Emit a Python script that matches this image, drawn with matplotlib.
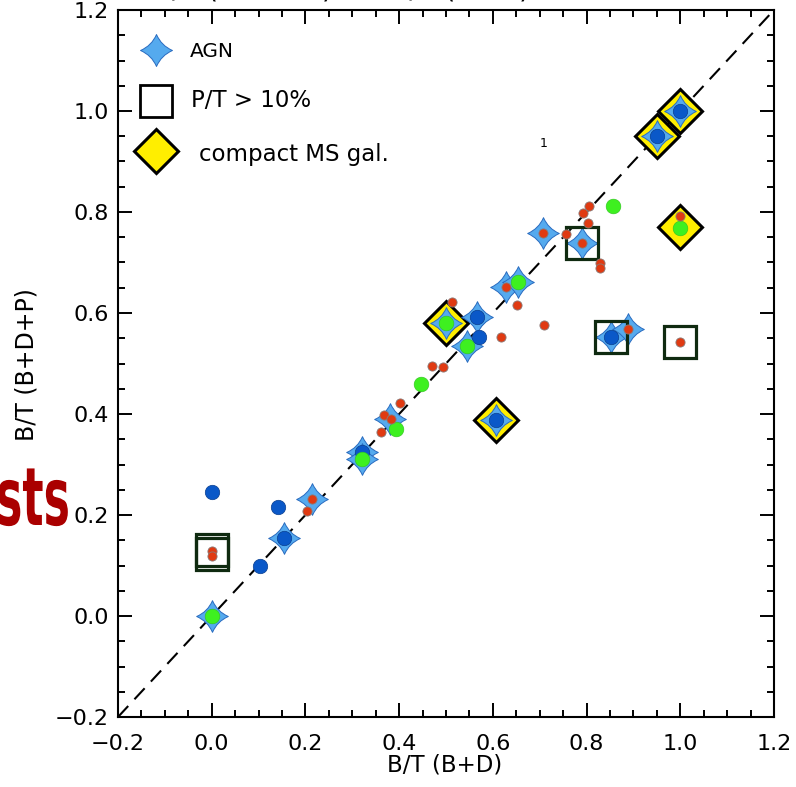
import matplotlib
matplotlib.use("Agg")
import matplotlib.pyplot as plt
from matplotlib.path import Path
from matplotlib.transforms import Affine2D
from matplotlib.ticker import MultipleLocator
from matplotlib import patheffects

# ---- data: B/T from bulge+disc fits (x) versus bulge+disc+point-source fits (y)
agn_x = [0.000, 0.154, 0.215, 0.320, 0.320, 0.380, 0.501, 0.544, 0.567,
         0.629, 0.654, 0.706, 0.790, 0.852, 0.888, 0.607, 0.951, 1.000]
agn_y = [0.000, 0.154, 0.232, 0.325, 0.310, 0.391, 0.581, 0.535, 0.593,
         0.652, 0.661, 0.759, 0.738, 0.553, 0.568, 0.388, 0.951, 1.000]

compact_x = [0.501, 0.607, 0.951, 1.000, 1.000]
compact_y = [0.581, 0.388, 0.951, 1.000, 0.770]

pt_x = [0.000, 0.000, 0.790, 0.852, 1.000]
pt_y = [0.131, 0.122, 0.738, 0.553, 0.543]

blue_x = [0.000, 0.103, 0.141, 0.154, 0.320, 0.567, 0.571, 0.607, 0.852, 0.951, 1.000]
blue_y = [0.245, 0.099, 0.216, 0.154, 0.325, 0.593, 0.553, 0.388, 0.553, 0.951, 1.000]

green_x = [0.000, 0.320, 0.394, 0.447, 0.501, 0.544, 0.654, 0.857, 1.000]
green_y = [0.000, 0.310, 0.370, 0.459, 0.581, 0.535, 0.661, 0.8125, 0.769]

red_x = [0.000, 0.000, 0.203, 0.215, 0.361, 0.368, 0.383, 0.402, 0.471, 0.494,
         0.512, 0.618, 0.629, 0.652, 0.706, 0.709, 0.756, 0.790, 0.792, 0.802,
         0.805, 0.829, 0.829, 0.888, 1.000, 1.000]
red_y = [0.129, 0.119, 0.207, 0.232, 0.364, 0.399, 0.390, 0.421, 0.496, 0.493,
         0.621, 0.552, 0.652, 0.616, 0.759, 0.577, 0.756, 0.738, 0.799, 0.778,
         0.8125, 0.700, 0.689, 0.568, 0.543, 0.793]

one_to_one = [-0.2, 1.2]
axis_range = [-0.2, 1.2]

# ---- four-pointed star marker with concave sides
c = 0.30
star_verts = [(0, 1), (c, c), (1, 0), (c, -c), (0, -1), (-c, -c), (-1, 0),
              (-c, c), (0, 1), (0, 1)]
star_codes = [Path.MOVETO] + [Path.CURVE3] * 8 + [Path.CLOSEPOLY]
STAR = Path(star_verts, star_codes)

STAR_FACE = "#55aaee"
STAR_EDGE = "#2a6cc0"
YELLOW = "#ffee00"
SQ_EDGE = "#0f2a10"
BLUE = "#0a58c8"
GREEN = "#3ef020"
RED = "#e03a12"

fig = plt.figure(figsize=(7.96, 7.87), dpi=100)
ax = fig.add_axes([118 / 796, 70 / 787, 656 / 796, 707 / 787])

ax.plot(one_to_one, one_to_one, color="black", lw=1.5, dashes=(7.2, 4.4), zorder=1)

ax.plot(compact_x, compact_y, ls="none", marker="D", ms=21.9, mfc=YELLOW,
        mec="black", mew=2.2, zorder=2)
ax.plot(agn_x, agn_y, ls="none", marker=STAR, ms=22.8, mfc=STAR_FACE,
        mec=STAR_EDGE, mew=0.7, zorder=3)
ax.plot(pt_x, pt_y, ls="none", marker="s", ms=23.2, mfc="none",
        mec=SQ_EDGE, mew=2.3, zorder=4)
ax.plot(blue_x, blue_y, ls="none", marker="o", ms=10.4, mfc=BLUE,
        mec="#0a3f90", mew=0.5, zorder=5)
ax.plot(green_x, green_y, ls="none", marker="o", ms=10.6, mfc=GREEN,
        mec="#30c020", mew=0.4, zorder=5)
ax.plot(red_x, red_y, ls="none", marker="o", ms=6.6, mfc=RED,
        mec="#8a7a78", mew=0.6, zorder=6)

ax.text(0.708, 0.935, "1", fontsize=9, ha="center", va="center", zorder=7)

# ---- legend drawn inside the axes
tr = ax.transAxes
ax.plot([0.0575], [0.943], transform=tr, ls="none", marker=STAR, ms=23.0,
        mfc=STAR_FACE, mec=STAR_EDGE, mew=0.7, clip_on=False)
ax.plot([0.0575], [0.8716], transform=tr, ls="none", marker="s", ms=23.2,
        mfc="none", mec="black", mew=2.0, clip_on=False)
ax.plot([0.0575], [0.8006], transform=tr, ls="none", marker="D", ms=21.9,
        mfc=YELLOW, mec="black", mew=2.2, clip_on=False)
ax.text(0.1098, 0.9406, "AGN", transform=tr, fontsize=14.5, va="center")
ax.text(0.1108, 0.8713, "P/T > 10%", transform=tr, fontsize=16.5, va="center")
ax.text(0.1235, 0.795, "compact MS gal.", transform=tr, fontsize=16.5, va="center")

# ---- axes styling
ax.set_xlim(axis_range)
ax.set_ylim(axis_range)
for sp in ax.spines.values():
    sp.set_linewidth(1.5)
ax.xaxis.set_major_locator(MultipleLocator(0.2))
ax.yaxis.set_major_locator(MultipleLocator(0.2))
ax.xaxis.set_minor_locator(MultipleLocator(0.05))
ax.yaxis.set_minor_locator(MultipleLocator(0.05))
ax.tick_params(which="both", direction="in", top=True, right=True, width=1.4)
ax.tick_params(which="major", length=10, labelsize=16)
ax.tick_params(which="minor", length=5)
ax.tick_params(axis="x", which="major", pad=12.5)
ax.tick_params(axis="y", which="major", pad=6.5)
ax.xaxis.set_major_formatter(plt.FuncFormatter(lambda v, p: f"{v:.1f}".replace("-", "\u2212")))
ax.yaxis.set_major_formatter(plt.FuncFormatter(lambda v, p: f"{v:.1f}".replace("-", "\u2212")))

fig.text(445 / 796, (787 - 771) / 787, "B/T (B+D)", fontsize=16.5, ha="center", va="baseline")
fig.text(26.5 / 796, (787 - 365) / 787, "B/T (B+D+P)", fontsize=17, rotation=90,
         ha="center", va="center")

fig.text(153 / 796, 1.0 + 2 / 787, "B/T (B+D+P) vs. B/T (B+D)", fontsize=20,
         ha="left", va="baseline")


class HSqueeze(patheffects.AbstractPathEffect):
    """Compress glyphs horizontally about a fixed display x position."""

    def __init__(self, sx, x0):
        super().__init__()
        self.sx = sx
        self.x0 = x0

    def draw_path(self, renderer, gc, tpath, affine, rgbFace=None):
        squeeze = Affine2D().translate(-self.x0, 0).scale(self.sx, 1).translate(self.x0, 0)
        renderer.draw_path(gc, tpath, affine + squeeze, rgbFace)


fig.text(70 / 796, (787 - 525) / 787, "sts", fontsize=58, fontweight="bold",
         color="#aa0000", ha="right", va="baseline",
         path_effects=[HSqueeze(0.55, 70)])

fig.savefig("out.png", dpi=100)
